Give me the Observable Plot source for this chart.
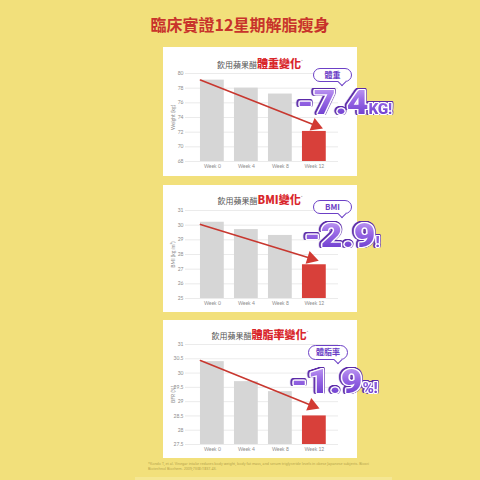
<!DOCTYPE html>
<html><head><meta charset="utf-8">
<script src="https://cdn.jsdelivr.net/npm/d3@7"></script>
<script src="https://cdn.jsdelivr.net/npm/@observablehq/plot@0.6"></script>
<style>
html,body{margin:0;padding:0;}
body{width:480px;height:480px;background:#f2e07b;position:relative;overflow:hidden;font-family:"Noto Sans CJK TC","Noto Sans",sans-serif;}
#title{position:absolute;left:0;width:480px;top:14px;text-align:center;font-size:16px;font-weight:700;color:#c8332b;line-height:20px;}
.panel{position:absolute;left:163px;width:194px;background:#fff;}
.panel svg{position:absolute;left:0;top:0;}
.ptitle{position:absolute;left:0;width:194px;text-align:center;white-space:nowrap;line-height:14px;z-index:2;}
.g{font-size:8px;color:#555;}
.r{font-size:11px;color:#d9262b;font-weight:900;}
.star{font-size:4px;color:#999;vertical-align:top;}
.pill{position:absolute;border:1.3px solid #6c40c6;border-radius:8px;background:#fff;color:#6c40c6;font-weight:700;font-size:8px;text-align:center;box-sizing:border-box;z-index:5;}
.pill:after{content:"";position:absolute;right:6px;bottom:-3.5px;width:5px;height:5px;background:#fff;border-right:1.3px solid #6c40c6;border-bottom:1.3px solid #6c40c6;transform:rotate(45deg);}
.big{position:absolute;font-family:Roboto,Lato,sans-serif;font-weight:900;font-size:34px;line-height:34px;white-space:nowrap;transform:scaleX(1.1);transform-origin:0 0;background:linear-gradient(180deg,#c7a6f4 0%,#9b6be6 35%,#7444d2 70%,#5a2bb2 100%);-webkit-background-clip:text;background-clip:text;color:transparent;filter:drop-shadow(1px 0 0 #fff) drop-shadow(-1px 0 0 #fff) drop-shadow(0 1px 0 #fff) drop-shadow(0 -1px 0 #fff) drop-shadow(0.8px 0 0 #5b2aa8) drop-shadow(-0.8px 0 0 #5b2aa8) drop-shadow(0 0.8px 0 #5b2aa8) drop-shadow(0 -0.8px 0 #5b2aa8);z-index:6;}
.big span{font-size:14px;letter-spacing:-0.3px;}
#foot{position:absolute;left:148px;top:462px;width:232px;font-size:3.6px;line-height:4.5px;color:#b5a34c;font-family:"Noto Sans",sans-serif;}
#strip{position:absolute;left:135px;top:477px;width:257px;height:3px;background:#f5e793;}
</style></head>
<body>
<div id="title">臨床實證12星期解脂瘦身</div>

<div class="panel" id="p1" style="top:47px;height:129px;">
  <div class="ptitle" style="top:7px;"><span class="g">飲用蘋果醋</span><span class="r">體重變化</span><span class="star">*</span></div>
</div>
<div class="panel" id="p2" style="top:185px;height:127px;">
  <div class="ptitle" style="top:5px;"><span class="g">飲用蘋果醋</span><span class="r">BMI變化</span><span class="star">*</span></div>
</div>
<div class="panel" id="p3" style="top:320px;height:138px;">
  <div class="ptitle" style="top:5px;"><span class="g">飲用蘋果醋</span><span class="r">體脂率變化</span><span class="star">*</span></div>
</div>

<div class="pill" style="left:313px;top:68px;width:39px;height:14px;line-height:11px;">體重</div>
<div class="big" style="left:297px;top:85px;">-7.4<span>KG!</span></div>

<div class="pill" style="left:313px;top:200px;width:39px;height:14px;line-height:11px;">BMI</div>
<div class="big" style="left:304px;top:218px;">-2.9<span>!</span></div>

<div class="pill" style="left:308px;top:345px;width:40px;height:15px;line-height:12px;">體脂率</div>
<div class="big" style="left:291px;top:364px;">-1.9<span>%!</span></div>

<div id="foot">*Kondo T, et al. Vinegar intake reduces body weight, body fat mass, and serum triglyceride levels in obese Japanese subjects. Biosci Biotechnol Biochem. 2009;73(8):1837-43.</div>
<div id="strip"></div>

<script>
const weeks = ["Week 0", "Week 4", "Week 8", "Week 12"];
const weightValues = [79.1, 78.0, 77.2, 72.1];
const bmiValues = [30.2, 29.7, 29.3, 27.3];
const bfrValues = [30.4, 29.7, 29.35, 28.5];
const weightTicks = [68, 70, 72, 74, 76, 78, 80];
const bmiTicks = [25, 26, 27, 28, 29, 30, 31];
const bfrTicks = [27.5, 28, 28.5, 29, 29.5, 30, 30.5, 31];
// arrow: start at week-0 bar top-left, end at week-12 head
const weightArrowX = [-0.35, 3.04];
const weightArrowY = [79.1, 72.9];
const bmiArrowX = [-0.35, 2.91];
const bmiArrowY = [30.05, 27.73];
const bfrArrowX = [-0.35, 2.94];
const bfrArrowY = [30.44, 28.86];

function build(cfg, rot) {
  const yMin = cfg.ticks[0];
  const bars = weeks.map((w, i) => ({i, v: cfg.values[i], hi: i === weeks.length - 1}));
  const arrow = cfg.ax.map((x, k) => ({x, y: cfg.ay[k]}));
  return Plot.plot({
    width: 194, height: cfg.h,
    marginLeft: 22, marginRight: 19, marginTop: cfg.mt, marginBottom: cfg.mb,
    style: {fontSize: "5px", color: "#8c8c8c", fontFamily: "Lato, 'Noto Sans', sans-serif", background: "transparent", overflow: "visible"},
    x: {domain: [-0.79, 3.71], ticks: [0, 1, 2, 3], tickFormat: i => weeks[i], tickSize: 0, tickPadding: 3, label: null},
    y: {domain: [yMin, cfg.ticks[cfg.ticks.length - 1]], ticks: cfg.ticks, tickFormat: d => String(d), tickSize: 0, tickPadding: 2, label: cfg.label, labelArrow: false, labelAnchor: "center", labelOffset: 14},
    marks: [
      Plot.ruleY(cfg.ticks, {stroke: "#e6e6e6", strokeWidth: 0.8}),
      Plot.rect(bars, {x1: d => d.i - 0.35, x2: d => d.i + 0.35, y1: d => yMin, y2: "v", fill: d => d.hi ? "#d8403a" : "#d6d6d6"}),
      Plot.line(arrow, {x: "x", y: "y", stroke: "#c8372f", strokeWidth: 1.6}),
      Plot.dot([arrow[1]], {x: "x", y: "y", symbol: "triangle", r: 5, fill: "#d23a33", stroke: "none", rotate: rot})
    ]
  });
}

function chart(id, cfg) {
  const p0 = build(cfg, 0);
  const sx = p0.scale("x"), sy = p0.scale("y");
  const x0 = sx.apply(cfg.ax[0]), x1 = sx.apply(cfg.ax[1]);
  const y0 = sy.apply(cfg.ay[0]), y1 = sy.apply(cfg.ay[1]);
  const rot = Math.atan2(y1 - y0, x1 - x0) * 180 / Math.PI + 90;
  document.getElementById(id).appendChild(build(cfg, rot));
}

chart("p1", {values: weightValues, ticks: weightTicks, label: "Weight (kg)", ax: weightArrowX, ay: weightArrowY, h: 129, mt: 26, mb: 15});
chart("p2", {values: bmiValues, ticks: bmiTicks, label: "BMI (kg/m²)", ax: bmiArrowX, ay: bmiArrowY, h: 127, mt: 25, mb: 14});
chart("p3", {values: bfrValues, ticks: bfrTicks, label: "BFR (%)", ax: bfrArrowX, ay: bfrArrowY, h: 138, mt: 24, mb: 14});
</script>
</body></html>
